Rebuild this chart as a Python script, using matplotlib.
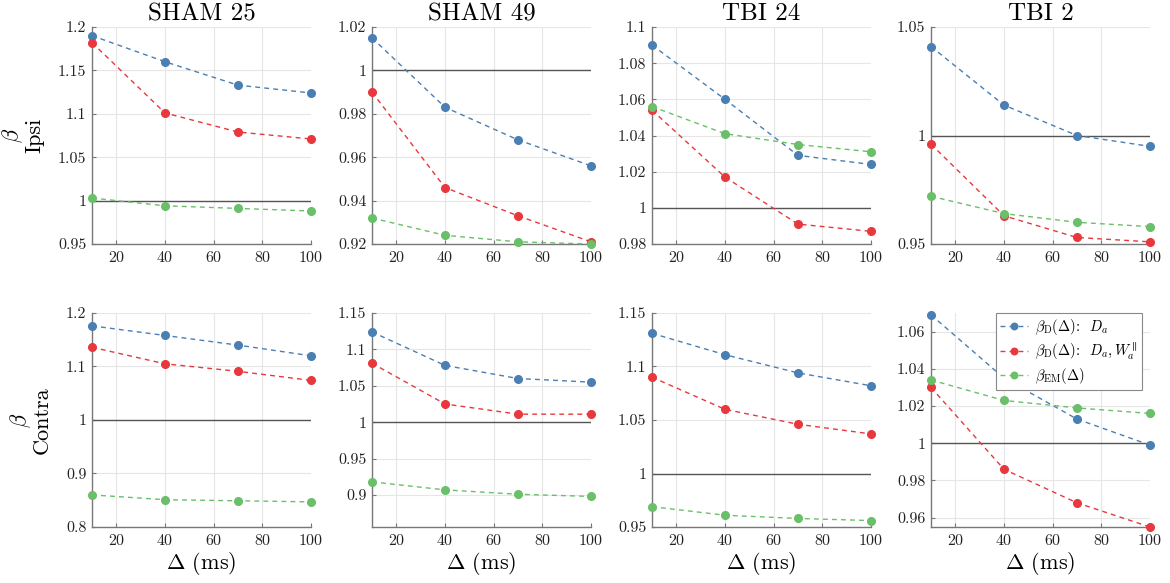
import matplotlib
matplotlib.use("Agg")
import matplotlib.pyplot as plt
from matplotlib.ticker import FuncFormatter, MultipleLocator

plt.rcParams['font.family'] = 'serif'
plt.rcParams['font.serif'] = ['cmr10', 'DejaVu Serif']
plt.rcParams['mathtext.fontset'] = 'cm'
plt.rcParams['axes.formatter.use_mathtext'] = True
plt.rcParams['axes.unicode_minus'] = False

delta = [10, 40, 70, 100]
titles = ["SHAM 25", "SHAM 49", "TBI 24", "TBI 2"]
rows = ["Ipsi", "Contra"]

# Ipsi row
ipsi_D = [[1.190, 1.160, 1.133, 1.124],
          [1.015, 0.983, 0.968, 0.956],
          [1.090, 1.060, 1.029, 1.024],
          [1.041, 1.014, 1.000, 0.995]]
ipsi_DW = [[1.182, 1.101, 1.079, 1.071],
           [0.990, 0.946, 0.933, 0.921],
           [1.054, 1.017, 0.991, 0.987],
           [0.996, 0.963, 0.953, 0.951]]
ipsi_EM = [[1.003, 0.994, 0.991, 0.988],
           [0.932, 0.924, 0.921, 0.920],
           [1.056, 1.041, 1.035, 1.031],
           [0.972, 0.964, 0.960, 0.958]]
# Contra row
contra_D = [[1.176, 1.158, 1.140, 1.120],
            [1.124, 1.078, 1.060, 1.055],
            [1.131, 1.111, 1.094, 1.082],
            [1.069, 1.035, 1.013, 0.999]]
contra_DW = [[1.136, 1.105, 1.091, 1.074],
             [1.081, 1.025, 1.011, 1.011],
             [1.090, 1.060, 1.046, 1.037],
             [1.030, 0.986, 0.968, 0.955]]
contra_EM = [[0.860, 0.851, 0.849, 0.847],
             [0.918, 0.907, 0.901, 0.898],
             [0.969, 0.961, 0.958, 0.956],
             [1.034, 1.023, 1.019, 1.016]]

ylims = [[(0.95, 1.2), (0.92, 1.02), (0.98, 1.1), (0.95, 1.05)],
         [(0.8, 1.2), (0.856, 1.15), (0.95, 1.15), (0.955, 1.07)]]
ysteps = [[0.05, 0.02, 0.02, 0.05],
          [0.1, 0.05, 0.05, 0.02]]

labels = [r'$\beta_{\mathrm{D}}(\Delta)$:  $D_a$',
          r'$\beta_{\mathrm{D}}(\Delta)$:  $D_a, W_a^{\parallel}$',
          r'$\beta_{\mathrm{EM}}(\Delta)$']
colors = ['#4a7fb3', '#e8383d', '#6abf69']

W, H = 1170, 583
fig = plt.figure(figsize=(W / 100, H / 100), dpi=100)

lefts = [92, 372, 652, 931]
pw = 219
tops = [27, 313]
ph = [217, 214]

fmt = FuncFormatter(lambda v, p: '%g' % round(v, 4))

for r in range(2):
    data = [(ipsi_D, ipsi_DW, ipsi_EM), (contra_D, contra_DW, contra_EM)][r]
    for c in range(4):
        ax = fig.add_axes([lefts[c] / W, 1 - (tops[r] + ph[r]) / H, pw / W, ph[r] / H])
        ax.axhline(1.0, color='#555555', lw=1.0, zorder=1)
        for k in range(3):
            ax.plot(delta, data[k][c], ls='--', color=colors[k], marker='o',
                    ms=5.5, lw=1.0, dashes=(3.5, 3), label=labels[k], zorder=3,
                    clip_on=False)
        ax.set_xlim(10, 100)
        ax.set_ylim(*ylims[r][c])
        ax.xaxis.set_major_locator(MultipleLocator(20))
        ax.yaxis.set_major_locator(MultipleLocator(ysteps[r][c]))
        ax.yaxis.set_major_formatter(fmt)
        ax.grid(True, color='#e6e6e6', lw=0.8)
        ax.set_axisbelow(True)
        for s in ['top', 'right']:
            ax.spines[s].set_visible(False)
        for s in ['left', 'bottom']:
            ax.spines[s].set_color('#777777')
            ax.spines[s].set_linewidth(1.0)
        ax.tick_params(direction='in', length=3, color='#777777',
                       labelsize=11.5, labelcolor='#222222', pad=4)
        if r == 0:
            ax.set_title(titles[c], fontsize=18, pad=5)
        else:
            ax.set_xlabel(r'$\Delta$ (ms)', fontsize=16, labelpad=2)
        if c == 0:
            ax.set_ylabel(r'$\beta$' + '\n' + rows[r], fontsize=16,
                          labelpad=10, linespacing=1.0)
        if r == 1 and c == 3:
            leg = ax.legend(loc='upper right', fontsize=10.5, frameon=True,
                            fancybox=False, framealpha=1, edgecolor='#888888',
                            handlelength=1.9, handletextpad=0.5, markerscale=0.85,
                            borderpad=0.3, labelspacing=0.25,
                            borderaxespad=0.0, bbox_to_anchor=(0.965, 1.0))
            leg.get_frame().set_linewidth(0.8)

fig.savefig('out.png', dpi=100)
